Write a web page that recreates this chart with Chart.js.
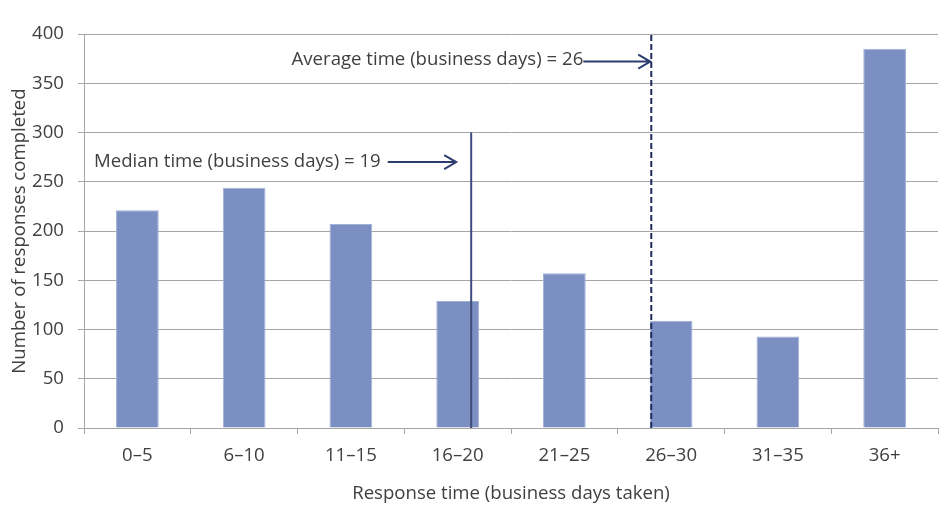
<!DOCTYPE html>
<html>
<head>
<meta charset="utf-8">
<script src="https://cdn.jsdelivr.net/npm/chart.js@4/dist/chart.umd.min.js"></script>
<style>
    html, body { margin: 0; padding: 0; background: #ffffff; }
    #wrap { width: 952px; height: 514px; position: relative; }
</style>
</head>
<body>
<div id="wrap"><canvas id="responseChart"></canvas></div>
<script>
const categories = ["0–5", "6–10", "11–15", "16–20", "21–25", "26–30", "31–35", "36+"]
const responses = [221, 244, 207, 129, 157, 109, 93, 385]
const yTicks = [0, 50, 100, 150, 200, 250, 300, 350, 400]

// marker lines, positions in category-index units
const medianLabel = "Median time (business days) = 19"
const medianPos = 3.127
const medianTop = 300
const medianTextY = 270
const averageLabel = "Average time (business days) = 26"
const averagePos = 4.814
const averageTextY = 374

const colors = {
    bar: "#7b8fc2",
    barEdge: "#a3b1d8",
    grid: "#a6a6a6",
    text: "#404040",
    median: "#404d7d",
    average: "#1f2d5c",
    arrow: "#2e3d70",
}

const fontFamily = "'Open Sans', 'Noto Sans', sans-serif"
const fontSize = 18.6

const drawArrow = (ctx, x1, x2, y) => {
    ctx.beginPath()
    ctx.moveTo(x1, y)
    ctx.lineTo(x2, y)
    ctx.moveTo(x2 - 12, y - 7)
    ctx.lineTo(x2, y)
    ctx.lineTo(x2 - 12, y + 7)
    ctx.stroke()
}

const markerPlugin = {
    id: "markers",
    afterDatasetsDraw(chart) {
        const { ctx, scales: { x, y } } = chart
        const step = x.getPixelForValue(1) - x.getPixelForValue(0)
        const posX = (p) => x.getPixelForValue(0) + p * step
        const mx = posX(medianPos)
        const ax = posX(averagePos)
        ctx.save()

        ctx.strokeStyle = colors.median
        ctx.lineWidth = 2
        ctx.beginPath()
        ctx.moveTo(mx, y.getPixelForValue(0))
        ctx.lineTo(mx, y.getPixelForValue(medianTop))
        ctx.stroke()

        ctx.strokeStyle = colors.average
        ctx.lineWidth = 2
        ctx.setLineDash([6, 3])
        ctx.beginPath()
        ctx.moveTo(ax, y.getPixelForValue(0))
        ctx.lineTo(ax, y.top)
        ctx.stroke()
        ctx.setLineDash([])

        ctx.font = fontSize + "px " + fontFamily
        ctx.fillStyle = colors.text
        ctx.textBaseline = "middle"
        ctx.textAlign = "left"
        const my = y.getPixelForValue(medianTextY)
        ctx.fillText(medianLabel, x.left + 10, my)
        const mw = ctx.measureText(medianLabel).width
        const ay = y.getPixelForValue(averageTextY)
        const aw = ctx.measureText(averageLabel).width
        const aStart = ax - 68 - aw
        ctx.fillText(averageLabel, aStart, ay)

        ctx.strokeStyle = colors.arrow
        ctx.lineWidth = 2
        drawArrow(ctx, x.left + 10 + mw + 7, mx - 15, my)
        drawArrow(ctx, ax - 68, ax - 1, ay + 2)
        ctx.restore()
    },
}

new Chart(document.getElementById("responseChart").getContext("2d"), {
    type: "bar",
    data: {
        labels: categories,
        datasets: [
            {
                label: "Number of responses completed",
                data: responses,
                backgroundColor: colors.bar,
                borderColor: colors.barEdge,
                borderWidth: 1,
                barPercentage: 0.4,
                categoryPercentage: 1,
            },
        ],
    },
    options: {
        responsive: true,
        maintainAspectRatio: false,
        animation: false,
        layout: {
            padding: { top: 34, right: 14, left: 0, bottom: 0 },
        },
        plugins: {
            legend: { display: false },
            tooltip: { enabled: false },
        },
        scales: {
            x: {
                afterFit: (scale) => { scale.height = 86 },
                grid: {
                    display: true,
                    drawOnChartArea: false,
                    offset: true,
                    color: colors.grid,
                    tickLength: 6,
                },
                border: { color: colors.grid },
                ticks: {
                    color: colors.text,
                    font: { family: fontFamily, size: fontSize },
                    padding: 11,
                    maxRotation: 0,
                },
                title: {
                    display: true,
                    text: "Response time (business days taken)",
                    color: colors.text,
                    font: { family: fontFamily, size: fontSize },
                    padding: { top: 6, bottom: 9 },
                },
            },
            y: {
                min: 0,
                max: 400,
                afterFit: (scale) => { scale.width = 84 },
                afterBuildTicks: (scale) => {
                    scale.ticks = yTicks.map((v) => ({ value: v }))
                },
                grid: {
                    color: colors.grid,
                    tickLength: 6,
                },
                border: { color: colors.grid },
                ticks: {
                    color: colors.text,
                    font: { family: fontFamily, size: fontSize },
                    padding: 14,
                },
                title: {
                    display: true,
                    text: "Number of responses completed",
                    color: colors.text,
                    font: { family: fontFamily, size: fontSize },
                    padding: { top: 9, bottom: 0 },
                },
            },
        },
    },
    plugins: [markerPlugin],
})
</script>
</body>
</html>
